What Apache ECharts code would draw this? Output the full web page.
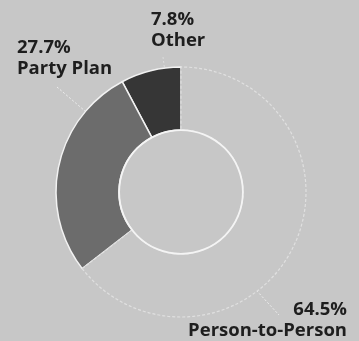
<!DOCTYPE html>
<html><head><meta charset="utf-8">
<script src="https://cdn.jsdelivr.net/npm/echarts@6/dist/echarts.min.js"></script>
<style>html,body{margin:0;padding:0;background:#c7c7c7}#c{width:359px;height:341px}</style>
</head><body><div id="c"></div>
<script>
const categories = ['Other', 'Party Plan', 'Person-to-Person'];
const values = [7.8, 27.7, 64.5];
const colors = ['#363636', '#6c6c6c', '#c7c7c7'];

const chart = echarts.init(document.getElementById('c'), null, {renderer: 'canvas'});
const labelPos = [
  {x: 151, y: 9, align: 'left'},
  {x: 17, y: 37, align: 'left'},
  {x: 347, y: 299, align: 'right'}
];
chart.setOption({
  backgroundColor: '#c7c7c7',
  animation: false,
  series: [{
    type: 'pie',
    center: [181, 192],
    radius: [62, 125],
    startAngle: 90,
    clockwise: false,
    avoidLabelOverlap: false,
    data: categories.map((n, i) => ({
      name: n, value: values[i],
      itemStyle: i === 2
        ? {color: colors[i], borderColor: '#e0e0e0', borderWidth: 1.2, borderType: [3, 2]}
        : {color: colors[i], borderColor: '#f2f2f2', borderWidth: 1.5},
      label: {align: labelPos[i].align}
    })),
    label: {
      show: true, position: 'outside',
      formatter: '{c}%\n{b}',
      fontFamily: 'Open Sans', fontWeight: 700, fontSize: 18.5, lineHeight: 21,
      color: '#1e1e1e'
    },
    labelLine: {show: false},
    labelLayout: function (p) {
      const l = labelPos[p.dataIndex];
      return {x: l.x, y: l.y, align: l.align, verticalAlign: 'top'};
    }
  }, {
    type: 'pie',
    center: [181, 192],
    radius: [61, 62.8],
    silent: true,
    label: {show: false},
    data: [{value: 1, itemStyle: {color: '#f4f4f4'}}]
  }],
  graphic: [
    {type: 'polyline', shape: {points: [[57, 87], [113, 135]]}, style: {stroke: '#eeeeee', lineWidth: 1, lineDash: [2, 2]}},
    {type: 'polyline', shape: {points: [[163, 57], [169, 102]]}, style: {stroke: '#dddddd', lineWidth: 1, lineDash: [2, 2]}},
    {type: 'polyline', shape: {points: [[235, 267], [279, 315]]}, style: {stroke: '#eeeeee', lineWidth: 1, lineDash: [2, 2]}}
  ]
});
</script></body></html>
